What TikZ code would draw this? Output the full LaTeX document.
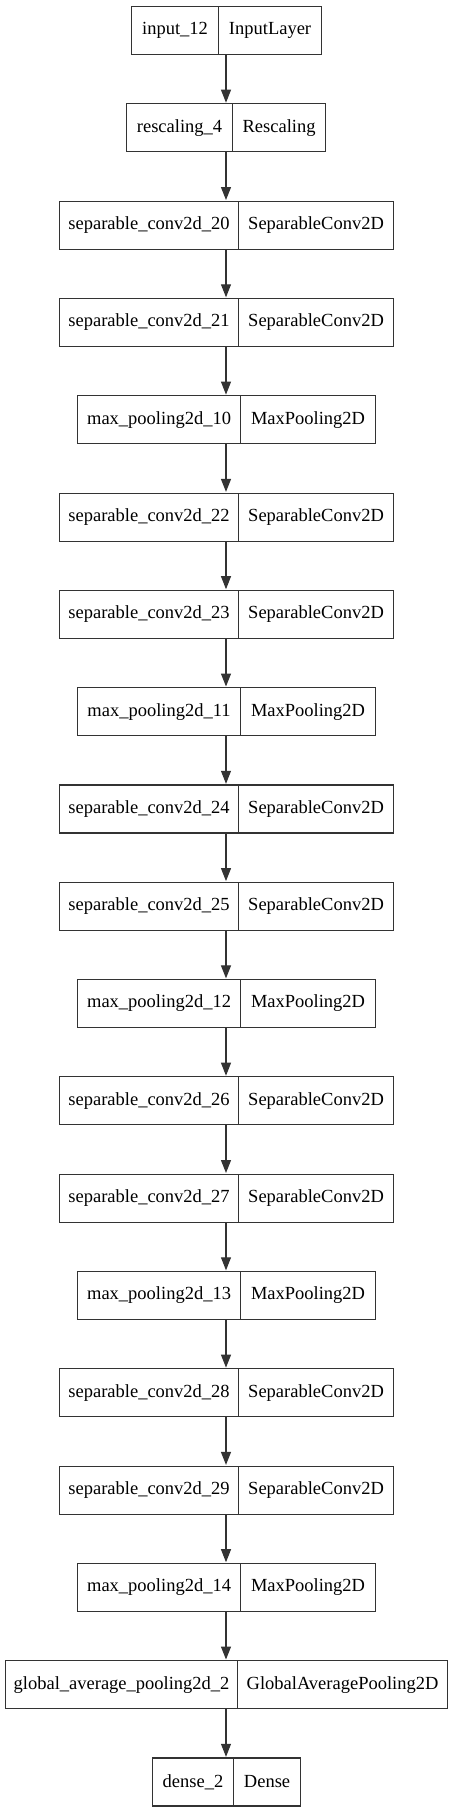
\documentclass[tikz,border=0pt]{standalone}
\usepackage{fontspec}
\setmainfont{Liberation Serif}
\usetikzlibrary{arrows.meta}
\definecolor{edge}{gray}{0.2}
\tikzset{
  field/.style={draw=edge, line width=1.1pt, inner sep=0pt, minimum height=48pt,
    anchor=north west, text=black, font=\fontsize{18.5}{22}\selectfont},
  arr/.style={draw=edge, line width=1.1pt, -{Triangle[length=13pt,width=10pt]}, shorten >=0.6pt}
}
\begin{document}
\begin{tikzpicture}[x=1pt,y=-1pt]
\useasboundingbox (0,0) rectangle (452,1812);
\coordinate (ax) at (226,0);
\foreach \i/\L/\D/\R/\n/\t in {
  0/131/218/321/input\_12/InputLayer,
  1/126/232/325/rescaling\_4/Rescaling,
  2/59/238/393/separable\_conv2d\_20/SeparableConv2D,
  3/59/238/393/separable\_conv2d\_21/SeparableConv2D,
  4/77/240/375/max\_pooling2d\_10/MaxPooling2D,
  5/59/238/393/separable\_conv2d\_22/SeparableConv2D,
  6/59/238/393/separable\_conv2d\_23/SeparableConv2D,
  7/77/240/375/max\_pooling2d\_11/MaxPooling2D,
  8/59/238/393/separable\_conv2d\_24/SeparableConv2D,
  9/59/238/393/separable\_conv2d\_25/SeparableConv2D,
  10/77/240/375/max\_pooling2d\_12/MaxPooling2D,
  11/59/238/393/separable\_conv2d\_26/SeparableConv2D,
  12/59/238/393/separable\_conv2d\_27/SeparableConv2D,
  13/77/240/375/max\_pooling2d\_13/MaxPooling2D,
  14/59/238/393/separable\_conv2d\_28/SeparableConv2D,
  15/59/238/393/separable\_conv2d\_29/SeparableConv2D,
  16/77/240/375/max\_pooling2d\_14/MaxPooling2D,
  17/5/237/447/global\_average\_pooling2d\_2/GlobalAveragePooling2D,
  18/152/233/300/dense\_2/Dense}
{
  \node[field, minimum width={(\D-\L)*1pt}] (l\i) at (\L,{6+\i*97.3}) {\n};
  \node[field, minimum width={(\R-\D)*1pt}] (r\i) at (\D,{6+\i*97.3}) {\t};
}
\foreach \i [evaluate=\i as \j using int(\i+1)] in {0,...,17}
  \draw[arr] (ax |- l\i.south) -- (ax |- l\j.north);
\end{tikzpicture}
\end{document}
